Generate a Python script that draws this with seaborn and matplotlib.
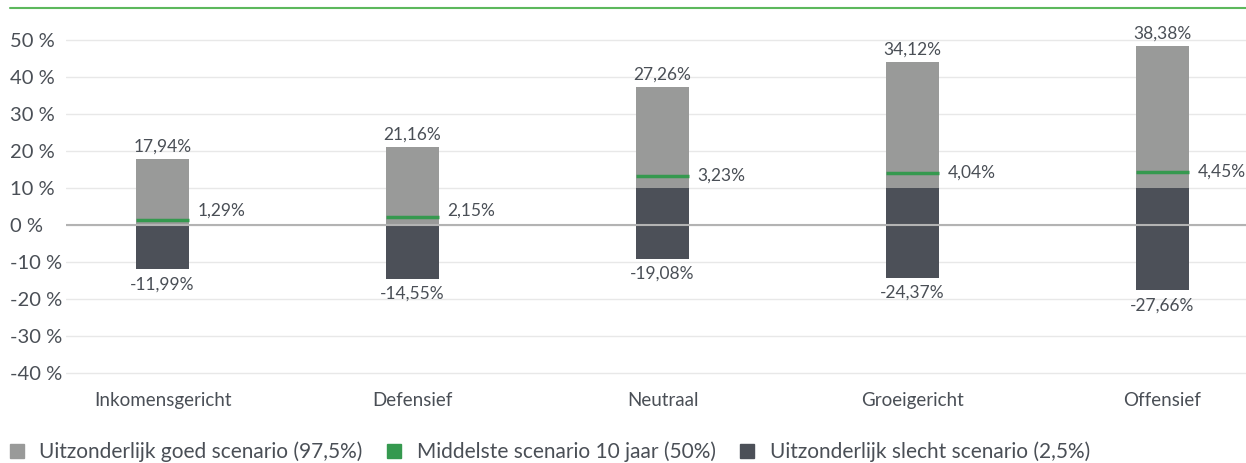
import matplotlib
matplotlib.use("Agg")
import matplotlib.pyplot as plt
import seaborn as sns
import numpy as np
from matplotlib.lines import Line2D

# ------------------ Data ------------------
profielen = ['Inkomensgericht', 'Defensief', 'Neutraal', 'Groeigericht', 'Offensief']
goed = [17.94, 21.16, 27.26, 34.12, 38.38]           # 97,5%
midden = [1.29, 2.15, 3.23, 4.04, 4.45]              # 50%
slecht = [-11.99, -14.55, -19.08, -24.37, -27.66]    # 2,5%
# in the original chart the last three profiles sit 10 points higher
basis = [0, 0, 10, 10, 10]

y_ticks = [-40, -30, -20, -10, 0, 10, 20, 30, 40, 50]
y_labels = [f"{t} %" for t in y_ticks]
legend_labels = ['Uitzonderlijk goed scenario (97,5%)',
                 'Middelste scenario 10 jaar (50%)',
                 'Uitzonderlijk slecht scenario (2,5%)']

# ------------------ Style ------------------
GRIJS = '#999a99'
DONKER = '#4c5058'
GROEN = '#35994f'
TEKST = '#4a4f56'

sns.set_style("white")
plt.rcParams['font.family'] = ['Lato', 'DejaVu Sans']


def pct(v):
    return f"{v:.2f}".replace('.', ',') + '%'


fig = plt.figure(figsize=(12.46, 4.63), dpi=100)
ax = fig.add_axes([0.053, 0.1864, 0.947, 0.7352])

breedte = 0.212

# ------------------ Bars ------------------
sns.barplot(x=profielen, y=goed, bottom=basis, color=GRIJS, saturation=1,
            width=breedte, errorbar=None, linewidth=0, ax=ax, zorder=2)
sns.barplot(x=profielen, y=slecht, bottom=basis, color=DONKER, saturation=1,
            width=breedte, errorbar=None, linewidth=0, ax=ax, zorder=2)

pos = np.arange(len(profielen))
top = np.array(basis) + np.array(goed)
bodem = np.array(basis) + np.array(slecht)
mid = np.array(basis) + np.array(midden)

ax.hlines(mid, pos - breedte / 2, pos + breedte / 2, color=GROEN, lw=2.5, zorder=4)
ax.axhline(0, color='#b3b3b3', lw=1.5, zorder=3)

# ------------------ Labels ------------------
for i in range(len(profielen)):
    ax.annotate(pct(goed[i]), (pos[i], top[i]), xytext=(0, 3), textcoords='offset points',
                ha='center', va='bottom', fontsize=12.5, color=TEKST)
    ax.annotate(pct(slecht[i]), (pos[i], bodem[i]), xytext=(0, -5), textcoords='offset points',
                ha='center', va='top', fontsize=12.5, color=TEKST)
    ax.annotate(pct(midden[i]), (pos[i] + breedte / 2, max(mid[i], 4)), xytext=(6, 0),
                textcoords='offset points', ha='left', va='center', fontsize=12.5, color=TEKST,
                annotation_clip=False)

# ------------------ Axes ------------------
ax.set_ylim(-41, 51)
ax.set_xlim(-0.386, 4.334)
ax.set_yticks(y_ticks)
ax.set_yticklabels(y_labels, fontsize=14.5, color=TEKST)
for lab in ax.get_yticklabels():
    lab.set_horizontalalignment('left')
ax.tick_params(axis='y', length=0, pad=40)
ax.tick_params(axis='x', length=0, pad=11, labelsize=13.5, labelcolor=TEKST)
ax.set_xlabel('')
ax.set_ylabel('')
ax.yaxis.grid(True, color='#e8e8e8', lw=1)
ax.set_axisbelow(True)
sns.despine(ax=ax, left=True, bottom=True)

# green line across the top
fig.add_artist(Line2D([10 / 1246, 1], [1 - 8 / 463] * 2, color='#5cb85c', lw=1.5))

# ------------------ Legend ------------------
handles = [Line2D([], [], marker='s', linestyle='', markersize=9.5, color=c)
           for c in [GRIJS, GROEN, DONKER]]
fig.legend(handles, legend_labels, loc='center left', bbox_to_anchor=(0.008, 11 / 463),
           ncol=3, frameon=False, fontsize=15, labelcolor=TEKST, borderpad=0,
           borderaxespad=0, handlelength=0.65, handletextpad=0.75, columnspacing=1.2)

fig.savefig('out.png', dpi=100)
